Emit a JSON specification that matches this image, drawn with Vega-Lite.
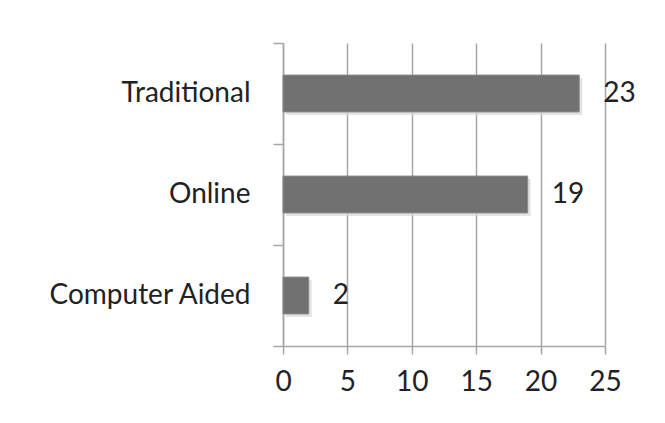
{
  "$schema": "https://vega.github.io/schema/vega-lite/v6.json",
  "width": 322,
  "height": 303,
  "autosize": {"type": "none"},
  "padding": {"left": 283, "top": 43, "right": 60, "bottom": 77},
  "background": "white",
  "data": {"values": [
    {"category": "Traditional", "value": 23},
    {"category": "Online", "value": 19},
    {"category": "Computer Aided", "value": 2}
  ]},
  "encoding": {
    "y": {"field": "category", "type": "nominal", "sort": null,
      "scale": {"paddingInner": 0, "paddingOuter": 0},
      "axis": {"title": null, "tickBand": "extent", "tickSize": 10, "labelPadding": 23, "labelLimit": 400,
        "labelFont": "Lato", "labelFontSize": 28, "labelColor": "#222222",
        "domainColor": "#a6a6a6", "domainWidth": 1.5, "tickColor": "#a6a6a6", "tickWidth": 1.5, "grid": false}},
    "x": {"field": "value", "type": "quantitative",
      "scale": {"domain": [0, 25], "nice": false},
      "axis": {"title": null, "values": [0, 5, 10, 15, 20, 25], "tickSize": 8, "labelPadding": 14,
        "labelFont": "Lato", "labelFontSize": 28, "labelColor": "#222222",
        "domainColor": "#a6a6a6", "domainWidth": 1.5, "tickColor": "#a6a6a6", "tickWidth": 1.5,
        "grid": true, "gridColor": "#a6a6a6", "gridWidth": 1.5, "labelFlush": false}}
  },
  "layer": [
    {"mark": {"type": "bar", "color": "#d9d9d9", "xOffset": 3, "yOffset": 3, "opacity": 0.7, "height": {"band": 0.365}}},
    {"mark": {"type": "bar", "color": "#717171", "stroke": "#8a8a8a", "strokeWidth": 1, "height": {"band": 0.365}}},
    {"mark": {"type": "text", "align": "left", "dx": 24, "font": "Lato", "fontSize": 28, "color": "#222222"},
      "encoding": {"text": {"field": "value", "type": "quantitative"}}}
  ],
  "config": {"view": {"stroke": null}}
}
